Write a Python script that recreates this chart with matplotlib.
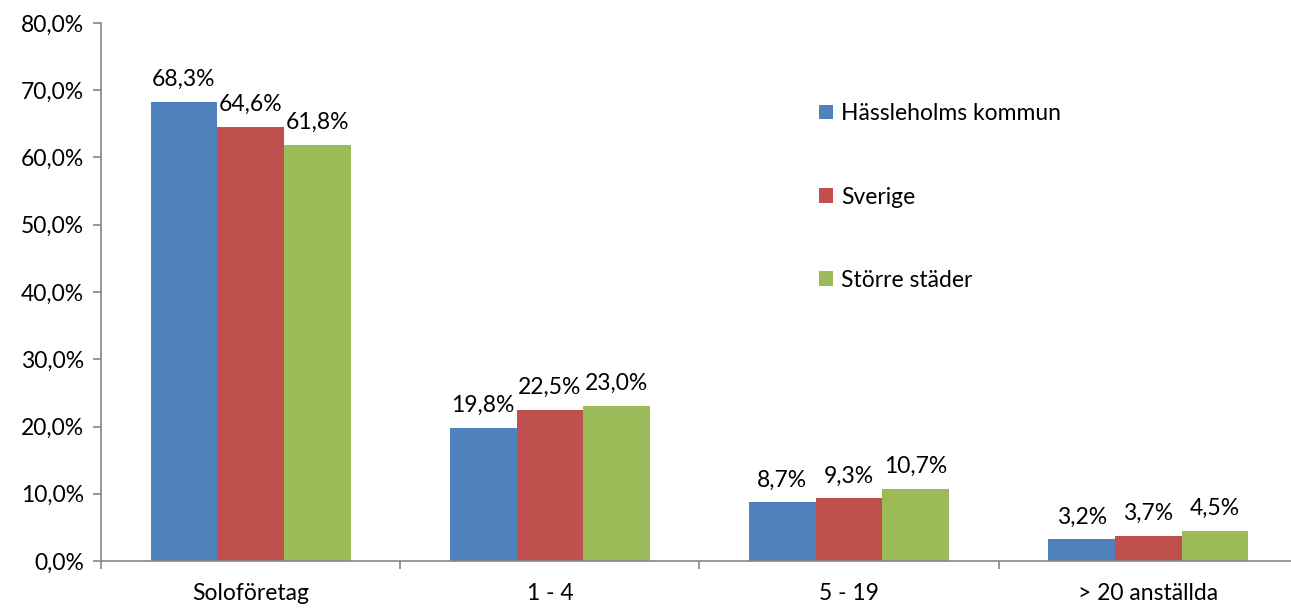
import numpy as np
import matplotlib
matplotlib.use('Agg')
import matplotlib.pyplot as plt
from matplotlib.ticker import FuncFormatter

categories = ['Soloföretag', '1 - 4', '5 - 19', '> 20 anställda']
series_names = ['Hässleholms kommun', 'Sverige', 'Större städer']
hassleholm = [68.3, 19.8, 8.7, 3.2]
sverige = [64.6, 22.5, 9.3, 3.7]
storre_stader = [61.8, 23.0, 10.7, 4.5]
colors = ['#4f81bd', '#c0504d', '#9bbb59']

plt.rcParams['font.family'] = ['Lato', 'DejaVu Sans']
plt.rcParams['font.size'] = 16.5

fig = plt.figure(figsize=(12.91, 6.08), dpi=100)
ax = fig.add_axes([101 / 1291, 47 / 608, 1197 / 1291, 538 / 608])

x = np.arange(len(categories))
width = 0.223
axis_color = '#868686'

for i, (vals, name) in enumerate(zip([hassleholm, sverige, storre_stader], series_names)):
    pos = x + (i - 1) * width
    ax.bar(pos, vals, width, color=colors[i], label=name)
    for xp, v in zip(pos, vals):
        ax.text(xp, v + 1.8, ('%.1f%%' % v).replace('.', ','), ha='center', va='bottom')

ax.set_xlim(-0.5, 3.5)
ax.set_ylim(0, 80)
ax.set_yticks(np.arange(0, 81, 10))
ax.yaxis.set_major_formatter(FuncFormatter(lambda v, p: ('%.1f%%' % v).replace('.', ',')))

# category labels centred, ticks on category boundaries
ax.set_xticks(x)
ax.set_xticklabels(categories)
ax.set_xticks(np.arange(-0.5, 3.6, 1), minor=True)
ax.tick_params(axis='x', which='major', length=0, pad=16)
ax.tick_params(axis='x', which='minor', length=6, color=axis_color, width=1.2)
ax.tick_params(axis='y', length=6, color=axis_color, width=1.2, pad=6)

for s in ['top', 'right']:
    ax.spines[s].set_visible(False)
for s in ['left', 'bottom']:
    ax.spines[s].set_color(axis_color)
    ax.spines[s].set_linewidth(1.2)

ax.legend(loc='upper left', bbox_to_anchor=(810 / 1291, 1 - 94 / 608), bbox_transform=fig.transFigure,
          frameon=False, handlelength=0.6, handleheight=0.6, handletextpad=0.35,
          labelspacing=2.72, borderaxespad=0)

fig.savefig('out.png', dpi=100)
